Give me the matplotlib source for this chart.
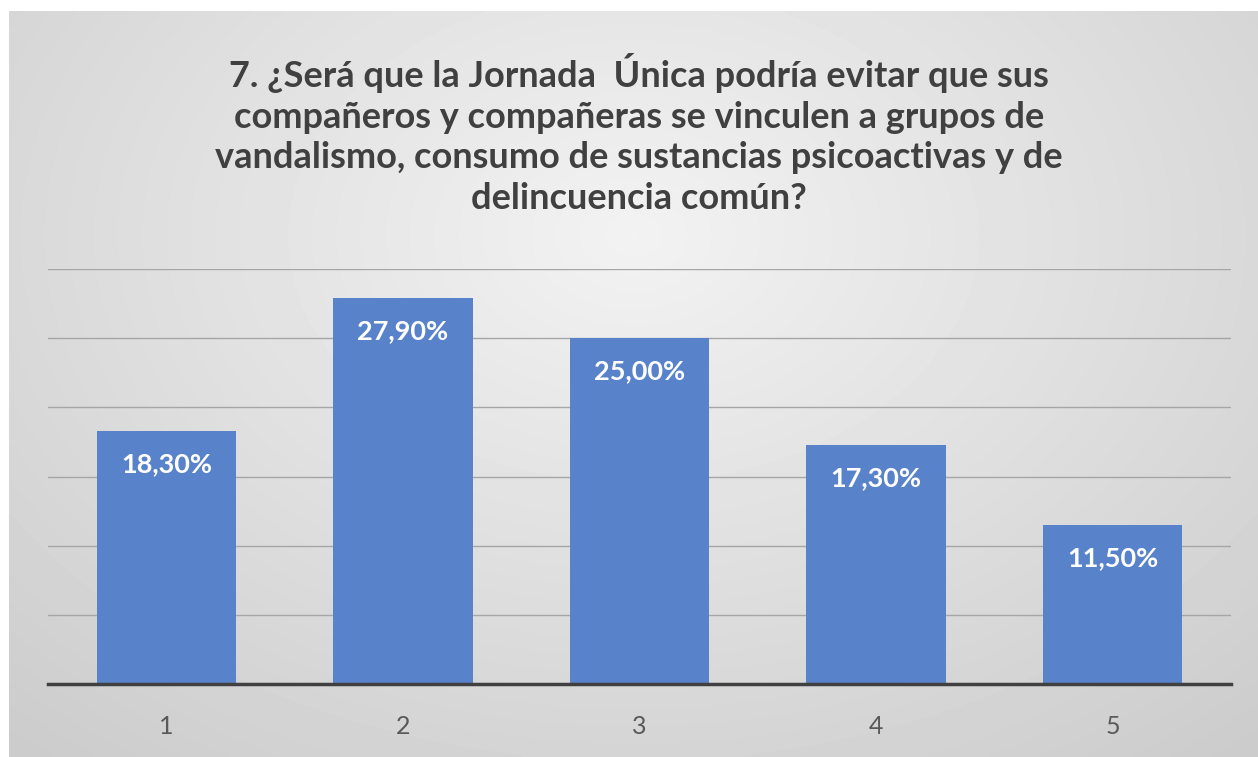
import numpy as np
import matplotlib
matplotlib.use('Agg')
import matplotlib.pyplot as plt

# 데이터
categories = ['1', '2', '3', '4', '5']
values = [18.3, 27.9, 25.0, 17.3, 11.5]
labels = ['18,30%', '27,90%', '25,00%', '17,30%', '11,50%']
title = ('7. ¿Será que la Jornada  Única podría evitar que sus\n'
         'compañeros y compañeras se vinculen a grupos de\n'
         'vandalismo, consumo de sustancias psicoactivas y de\n'
         'delincuencia común?')

plt.rcParams['font.family'] = ['Lato', 'DejaVu Sans']

fig = plt.figure(figsize=(12.58, 7.57), dpi=100)
fig.patch.set_facecolor('white')

# 배경 그라데이션
bg = fig.add_axes([9 / 1258, 0, 1 - 9 / 1258, 1 - 11 / 757])
bg.set_axis_off()
yy, xx = np.mgrid[0:1:200j, 0:1:300j]
r = np.sqrt(((xx - 0.5) / 0.75) ** 2 + ((yy - 0.3) / 0.9) ** 2)
shade = 0.95 - 0.15 * np.clip(r, 0, 1)
bg.imshow(shade, cmap='gray', vmin=0, vmax=1, aspect='auto',
          extent=[0, 1, 1, 0], interpolation='bicubic')

# 막대 그래프
ax = fig.add_axes([48 / 1258, 73 / 757, 1183 / 1258, 415 / 757])
ax.patch.set_alpha(0)
x = np.arange(len(categories))
ax.bar(x, values, width=0.59, color='#5882CA', zorder=3)
ax.set_xlim(-0.5, len(categories) - 0.5)
ax.set_ylim(0, 30)
ax.set_yticks(np.arange(0, 31, 5))
ax.yaxis.grid(True, color='#a6a6a6', linewidth=1.0, zorder=0)
ax.tick_params(axis='y', left=False, labelleft=False)
ax.tick_params(axis='x', length=0, pad=22, labelsize=18, labelcolor='#595959')
ax.set_xticks(x)
ax.set_xticklabels(categories)
for s in ['top', 'right', 'left']:
    ax.spines[s].set_visible(False)
ax.spines['bottom'].set_color('#404040')
ax.spines['bottom'].set_linewidth(2.5)
ax.spines['bottom'].set_zorder(4)

for xi, v, lab in zip(x, values, labels):
    ax.annotate(lab, (xi, v), xytext=(0, -24), textcoords='offset points',
                ha='center', va='center', color='white', fontsize=19.5,
                fontweight='bold')

fig.text(0.508, 1 - 134 / 757, title, ha='center', va='center',
         fontsize=26, fontweight='bold', color='#404040', linespacing=1.28)

fig.savefig('out.png', dpi=100)
